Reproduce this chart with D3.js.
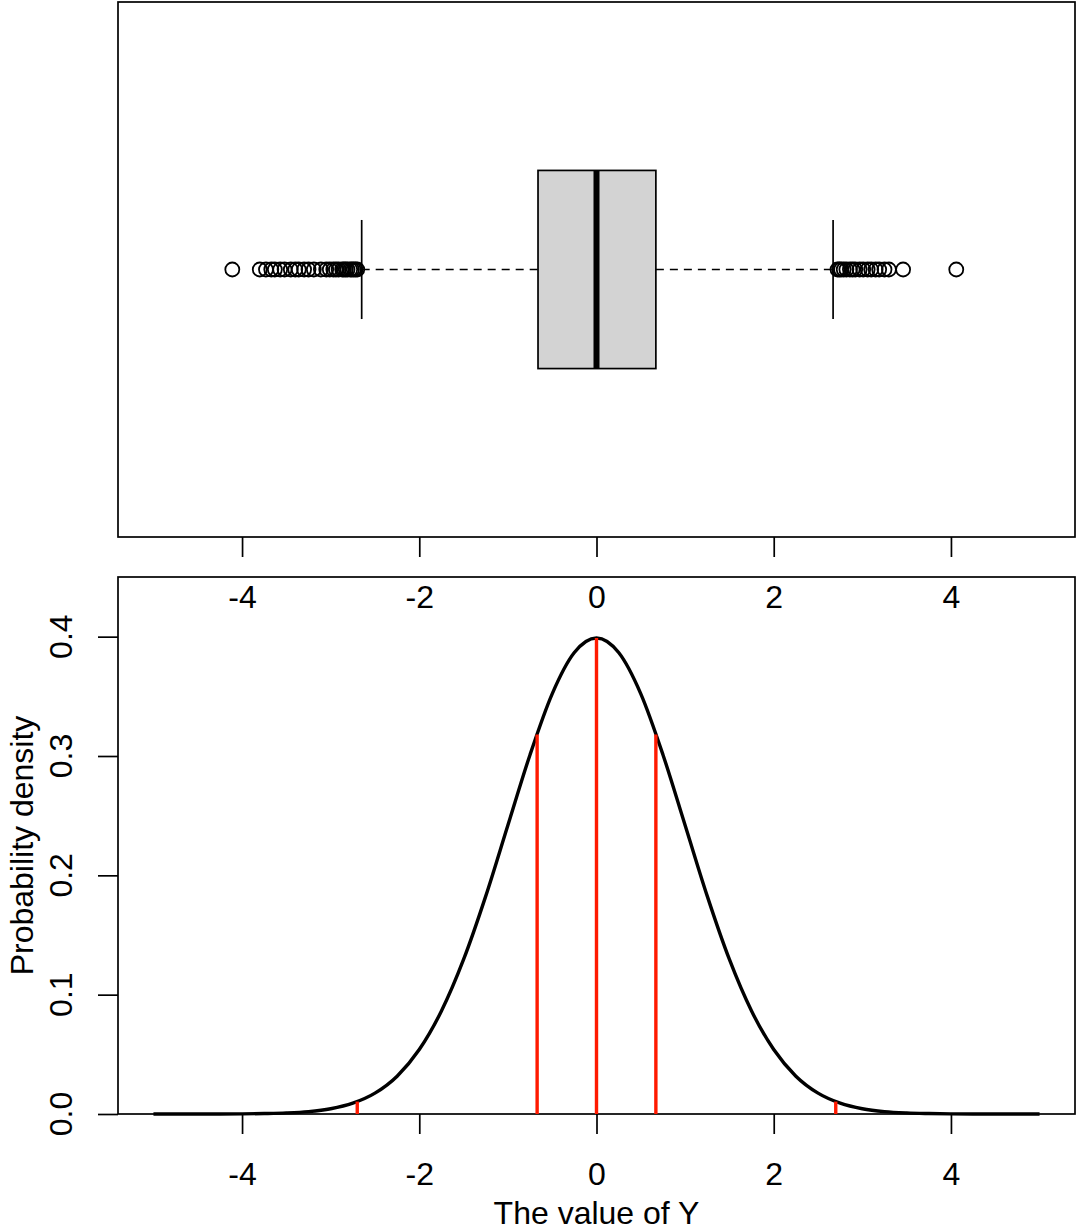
<!DOCTYPE html>
<html>
<head>
<meta charset="utf-8">
<script src="https://cdn.jsdelivr.net/npm/d3@7"></script>
<style>
  html, body { margin: 0; padding: 0; background: #fff; }
  svg { display: block; }
  text { font-family: "Liberation Sans", Arial, sans-serif; }
</style>
</head>
<body>
<svg id="chart" width="1080" height="1230"></svg>
<script>
// ---- data ----
const xTicks = [-4, -2, 0, 2, 4];
const xTickLabels = ["-4", "-2", "0", "2", "4"];
const yTicks = [0.0, 0.1, 0.2, 0.3, 0.4];
const yTickLabels = ["0.0", "0.1", "0.2", "0.3", "0.4"];

// boxplot summary of Y
const boxQ1 = -0.66;
const boxMedian = 0.0;
const boxQ3 = 0.67;
const whiskerLow = -2.65;
const whiskerHigh = 2.67;
const outliersLow = [-4.11, -3.80, -3.73, -3.67, -3.63, -3.57, -3.52, -3.45, -3.40, -3.36, -3.30,
  -3.25, -3.19, -3.11, -3.05, -3.01, -2.97, -2.94, -2.91, -2.87, -2.85, -2.83, -2.81, -2.78,
  -2.76, -2.74, -2.72, -2.70];
const outliersHigh = [2.72, 2.74, 2.76, 2.79, 2.82, 2.86, 2.89, 2.92, 2.97, 3.01, 3.06, 3.10,
  3.15, 3.19, 3.25, 3.30, 3.46, 4.06];

// density curve
const curveX = [-5, -4.75, -4.5, -4.25, -4, -3.75, -3.5, -3.25, -3, -2.75, -2.5, -2.25, -2, -1.75,
  -1.5, -1.25, -1, -0.75, -0.5, -0.25, 0, 0.25, 0.5, 0.75, 1, 1.25, 1.5, 1.75, 2, 2.25, 2.5,
  2.75, 3, 3.25, 3.5, 3.75, 4, 4.25, 4.5, 4.75, 5];
const curveY = [0.0000, 0.0000, 0.0000, 0.0000, 0.0001, 0.0004, 0.0009, 0.0020, 0.0044, 0.0091,
  0.0175, 0.0317, 0.0540, 0.0863, 0.1295, 0.1826, 0.2420, 0.3011, 0.3521, 0.3867, 0.3989,
  0.3867, 0.3521, 0.3011, 0.2420, 0.1826, 0.1295, 0.0863, 0.0540, 0.0317, 0.0175, 0.0091,
  0.0044, 0.0020, 0.0009, 0.0004, 0.0001, 0.0000, 0.0000, 0.0000, 0.0000];

// red reference lines (whisker ends, quartiles, median)
const refX = [-2.70, -0.67, 0.0, 0.67, 2.70];
const refY = [0.0104, 0.318, 0.3989, 0.318, 0.0104];

// ---- layout ----
const svg = d3.select("#chart");
const L = 118, R = 1075;
const top1 = 2, bot1 = 537;
const top2 = 577, bot2 = 1114;
const FS = 32;
const LW = 1.7;

const x = d3.scaleLinear().domain([-5.4, 5.4]).range([L, R]);
const yBox = d3.scaleLinear().domain([0.46, 1.54]).range([bot1, top1]);
const yDen = d3.scaleLinear().domain([0, 0.45]).range([bot2, top2]);
const xLab = d => xTickLabels[xTicks.indexOf(d)];

// ---- top panel: boxplot ----
const g1 = svg.append("g");
const bc = 1, bh = 0.2, sh = 0.1;

g1.append("line").attr("x1", x(whiskerLow)).attr("x2", x(boxQ1))
  .attr("y1", yBox(bc)).attr("y2", yBox(bc))
  .attr("stroke", "#000").attr("stroke-width", LW).attr("stroke-dasharray", "8,6");
g1.append("line").attr("x1", x(boxQ3)).attr("x2", x(whiskerHigh))
  .attr("y1", yBox(bc)).attr("y2", yBox(bc))
  .attr("stroke", "#000").attr("stroke-width", LW).attr("stroke-dasharray", "8,6");
[whiskerLow, whiskerHigh].forEach(v => {
  g1.append("line").attr("x1", x(v)).attr("x2", x(v))
    .attr("y1", yBox(bc - sh)).attr("y2", yBox(bc + sh))
    .attr("stroke", "#000").attr("stroke-width", LW);
});
g1.append("rect").attr("x", x(boxQ1)).attr("y", yBox(bc + bh))
  .attr("width", x(boxQ3) - x(boxQ1)).attr("height", yBox(bc - bh) - yBox(bc + bh))
  .attr("fill", "#d3d3d3").attr("stroke", "#000").attr("stroke-width", LW);
g1.append("line").attr("x1", x(boxMedian)).attr("x2", x(boxMedian))
  .attr("y1", yBox(bc + bh)).attr("y2", yBox(bc - bh))
  .attr("stroke", "#000").attr("stroke-width", 6);
g1.selectAll("circle.out").data(outliersLow.concat(outliersHigh)).enter()
  .append("circle").attr("class", "out")
  .attr("cx", d => x(d)).attr("cy", yBox(bc)).attr("r", 7)
  .attr("fill", "none").attr("stroke", "#000").attr("stroke-width", 1.8);
g1.append("rect").attr("x", L).attr("y", top1).attr("width", R - L).attr("height", bot1 - top1)
  .attr("fill", "none").attr("stroke", "#000").attr("stroke-width", LW);
const ax1 = g1.append("g").attr("transform", `translate(0,${bot1})`)
  .call(d3.axisBottom(x).tickValues(xTicks).tickSize(20).tickPadding(28).tickFormat(xLab));
ax1.select(".domain").remove();
ax1.selectAll("line").attr("stroke-width", LW);
ax1.selectAll("text").attr("font-size", FS).attr("font-family", "Liberation Sans, Arial, sans-serif").attr("fill", "#000");

// ---- bottom panel: density ----
const g2 = svg.append("g");
g2.append("rect").attr("x", L).attr("y", top2).attr("width", R - L).attr("height", bot2 - top2)
  .attr("fill", "none").attr("stroke", "#000").attr("stroke-width", LW);

const line = d3.line().x((d, i) => x(curveX[i])).y(d => yDen(d)).curve(d3.curveMonotoneX);
g2.append("path").attr("d", line(curveY)).attr("fill", "none")
  .attr("stroke", "#000").attr("stroke-width", 3.4);

g2.selectAll("line.ref").data(refX).enter().append("line").attr("class", "ref")
  .attr("x1", d => x(d)).attr("x2", d => x(d))
  .attr("y1", yDen(0)).attr("y2", (d, i) => yDen(refY[i]))
  .attr("stroke", "#ff1a00").attr("stroke-width", 3.4);

const ax2 = g2.append("g").attr("transform", `translate(0,${bot2})`)
  .call(d3.axisBottom(x).tickValues(xTicks).tickSize(20).tickPadding(28).tickFormat(xLab));
ax2.select(".domain").remove();
ax2.selectAll("line").attr("stroke-width", LW);
ax2.selectAll("text").attr("font-size", FS).attr("font-family", "Liberation Sans, Arial, sans-serif").attr("fill", "#000");

const ay2 = g2.append("g").attr("transform", `translate(${L},0)`)
  .call(d3.axisLeft(yDen).tickValues(yTicks).tickSize(20).tickFormat(""));
ay2.select(".domain").remove();
ay2.selectAll("line").attr("stroke-width", LW);
g2.selectAll("text.ylab").data(yTicks).enter().append("text").attr("class", "ylab")
  .attr("transform", (d) => `translate(72,${yDen(d)}) rotate(-90)`)
  .attr("text-anchor", "middle").attr("font-size", FS).attr("fill", "#000")
  .text((d, i) => yTickLabels[i]);

svg.append("text").attr("x", (L + R) / 2).attr("y", 1224).attr("text-anchor", "middle")
  .attr("font-size", FS).attr("fill", "#000").text("The value of Y");
svg.append("text").attr("transform", `translate(33,${(top2 + bot2) / 2}) rotate(-90)`)
  .attr("text-anchor", "middle").attr("font-size", FS).attr("fill", "#000").text("Probability density");
</script>
</body>
</html>
